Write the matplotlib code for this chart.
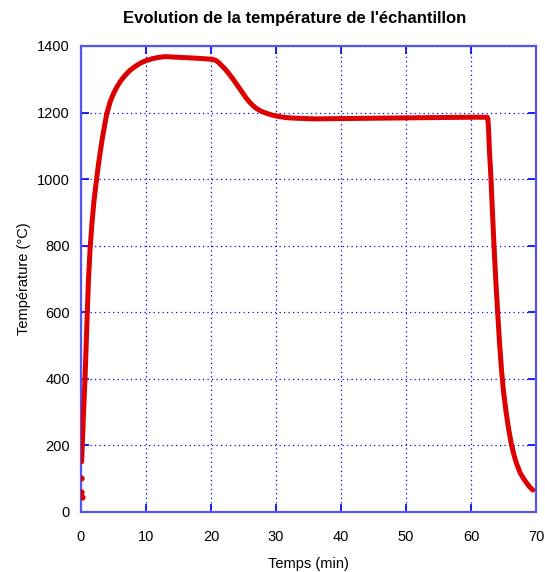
import numpy as np
import matplotlib

matplotlib.use("Agg")

import matplotlib.pyplot as plt

# ----- data (time in min, temperature in degC) -----
start_time = [0.0, 0.0, 0.1]
start_temp = [102, 60, 46]

time_min = [0.1, 0.2, 0.4, 0.62, 0.8, 0.97, 1.15, 1.4, 1.7, 2.0, 2.4, 2.8,
            3.3, 3.95, 4.5, 5.0, 5.5, 6.0, 6.5, 7.0, 7.5, 8.0, 8.6, 9.3,
            10.0, 11.0, 12.0, 13.0, 14.0, 16.0, 18.0, 20.2, 20.7, 21.2, 21.7,
            22.2, 22.7, 23.3, 23.8, 24.3, 24.9, 25.4, 25.9, 26.4, 27.0, 27.7,
            28.5, 29.5, 30.5, 31.5, 33.0, 36.0, 40.0, 45.0, 50.0, 55.0, 60.0,
            62.5, 62.6, 62.7, 62.83, 63.08, 63.3, 63.54, 63.8, 64.1, 64.4,
            64.7, 65.0, 65.4, 65.8, 66.2, 66.6, 67.0, 67.6, 68.1, 68.6, 69.0,
            69.5]
temp_c = [151, 200, 300, 400, 500, 600, 695, 790, 870, 935, 1000, 1060,
          1125, 1195, 1233, 1257, 1276, 1292, 1305, 1316, 1326, 1334, 1342, 1350,
          1356, 1362, 1366, 1368, 1367, 1365, 1363, 1360, 1357, 1350, 1340,
          1330, 1318, 1303, 1289, 1275, 1258, 1244, 1232, 1222, 1212, 1204,
          1198, 1192, 1188, 1185, 1183, 1181, 1182, 1183, 1184, 1185, 1186,
          1186, 1180, 1150, 1087, 1000, 900, 800, 700, 600, 505,
          425, 362, 300, 248, 205, 172, 146, 116, 100, 86, 76,
          66]

x_ticks = np.arange(0, 71, 10)
y_ticks = np.arange(0, 1401, 200)

plt.rcParams['font.family'] = ['Liberation Sans', 'DejaVu Sans']

fig = plt.figure(figsize=(5.45, 5.72), dpi=100)
ax = fig.add_axes([0.1486, 0.1049, 0.8349, 0.8147])

red = '#dd0000'
blue = '#0000ee'

ax.plot(time_min, temp_c, color=red, linewidth=3.6, solid_capstyle='round',
        solid_joinstyle='round', zorder=3)
ax.plot(start_time, start_temp, linestyle='none', marker='o', markersize=3.5,
        color=red, zorder=3)

ax.set_xlim(0, 70)
ax.set_ylim(0, 1400)
ax.set_xticks(x_ticks)
ax.set_yticks(y_ticks)

# gnuplot-like frame, ticks and grid
for side in ax.spines.values():
    side.set_color('#5555ee')
    side.set_linewidth(1.6)
ax.tick_params(direction='in', length=6, width=1.2, color=blue,
               top=True, right=True, labelsize=10.5, labelcolor='black')
ax.tick_params(axis='x', pad=13)
ax.tick_params(axis='y', pad=8)
ax.grid(True, color=blue, linestyle=(0, (1, 2.6)), linewidth=0.9)
ax.set_axisbelow(True)

ax.set_xlabel("Temps (min)", fontsize=10.5, labelpad=9)
ax.set_ylabel("Température (°C)", fontsize=10.5, labelpad=4)
fig.text(295 / 545, 1 - 18 / 572, "Evolution de la température de l'échantillon",
         fontsize=12, fontweight='bold', ha='center', va='center')

fig.savefig("out.png", dpi=100)
